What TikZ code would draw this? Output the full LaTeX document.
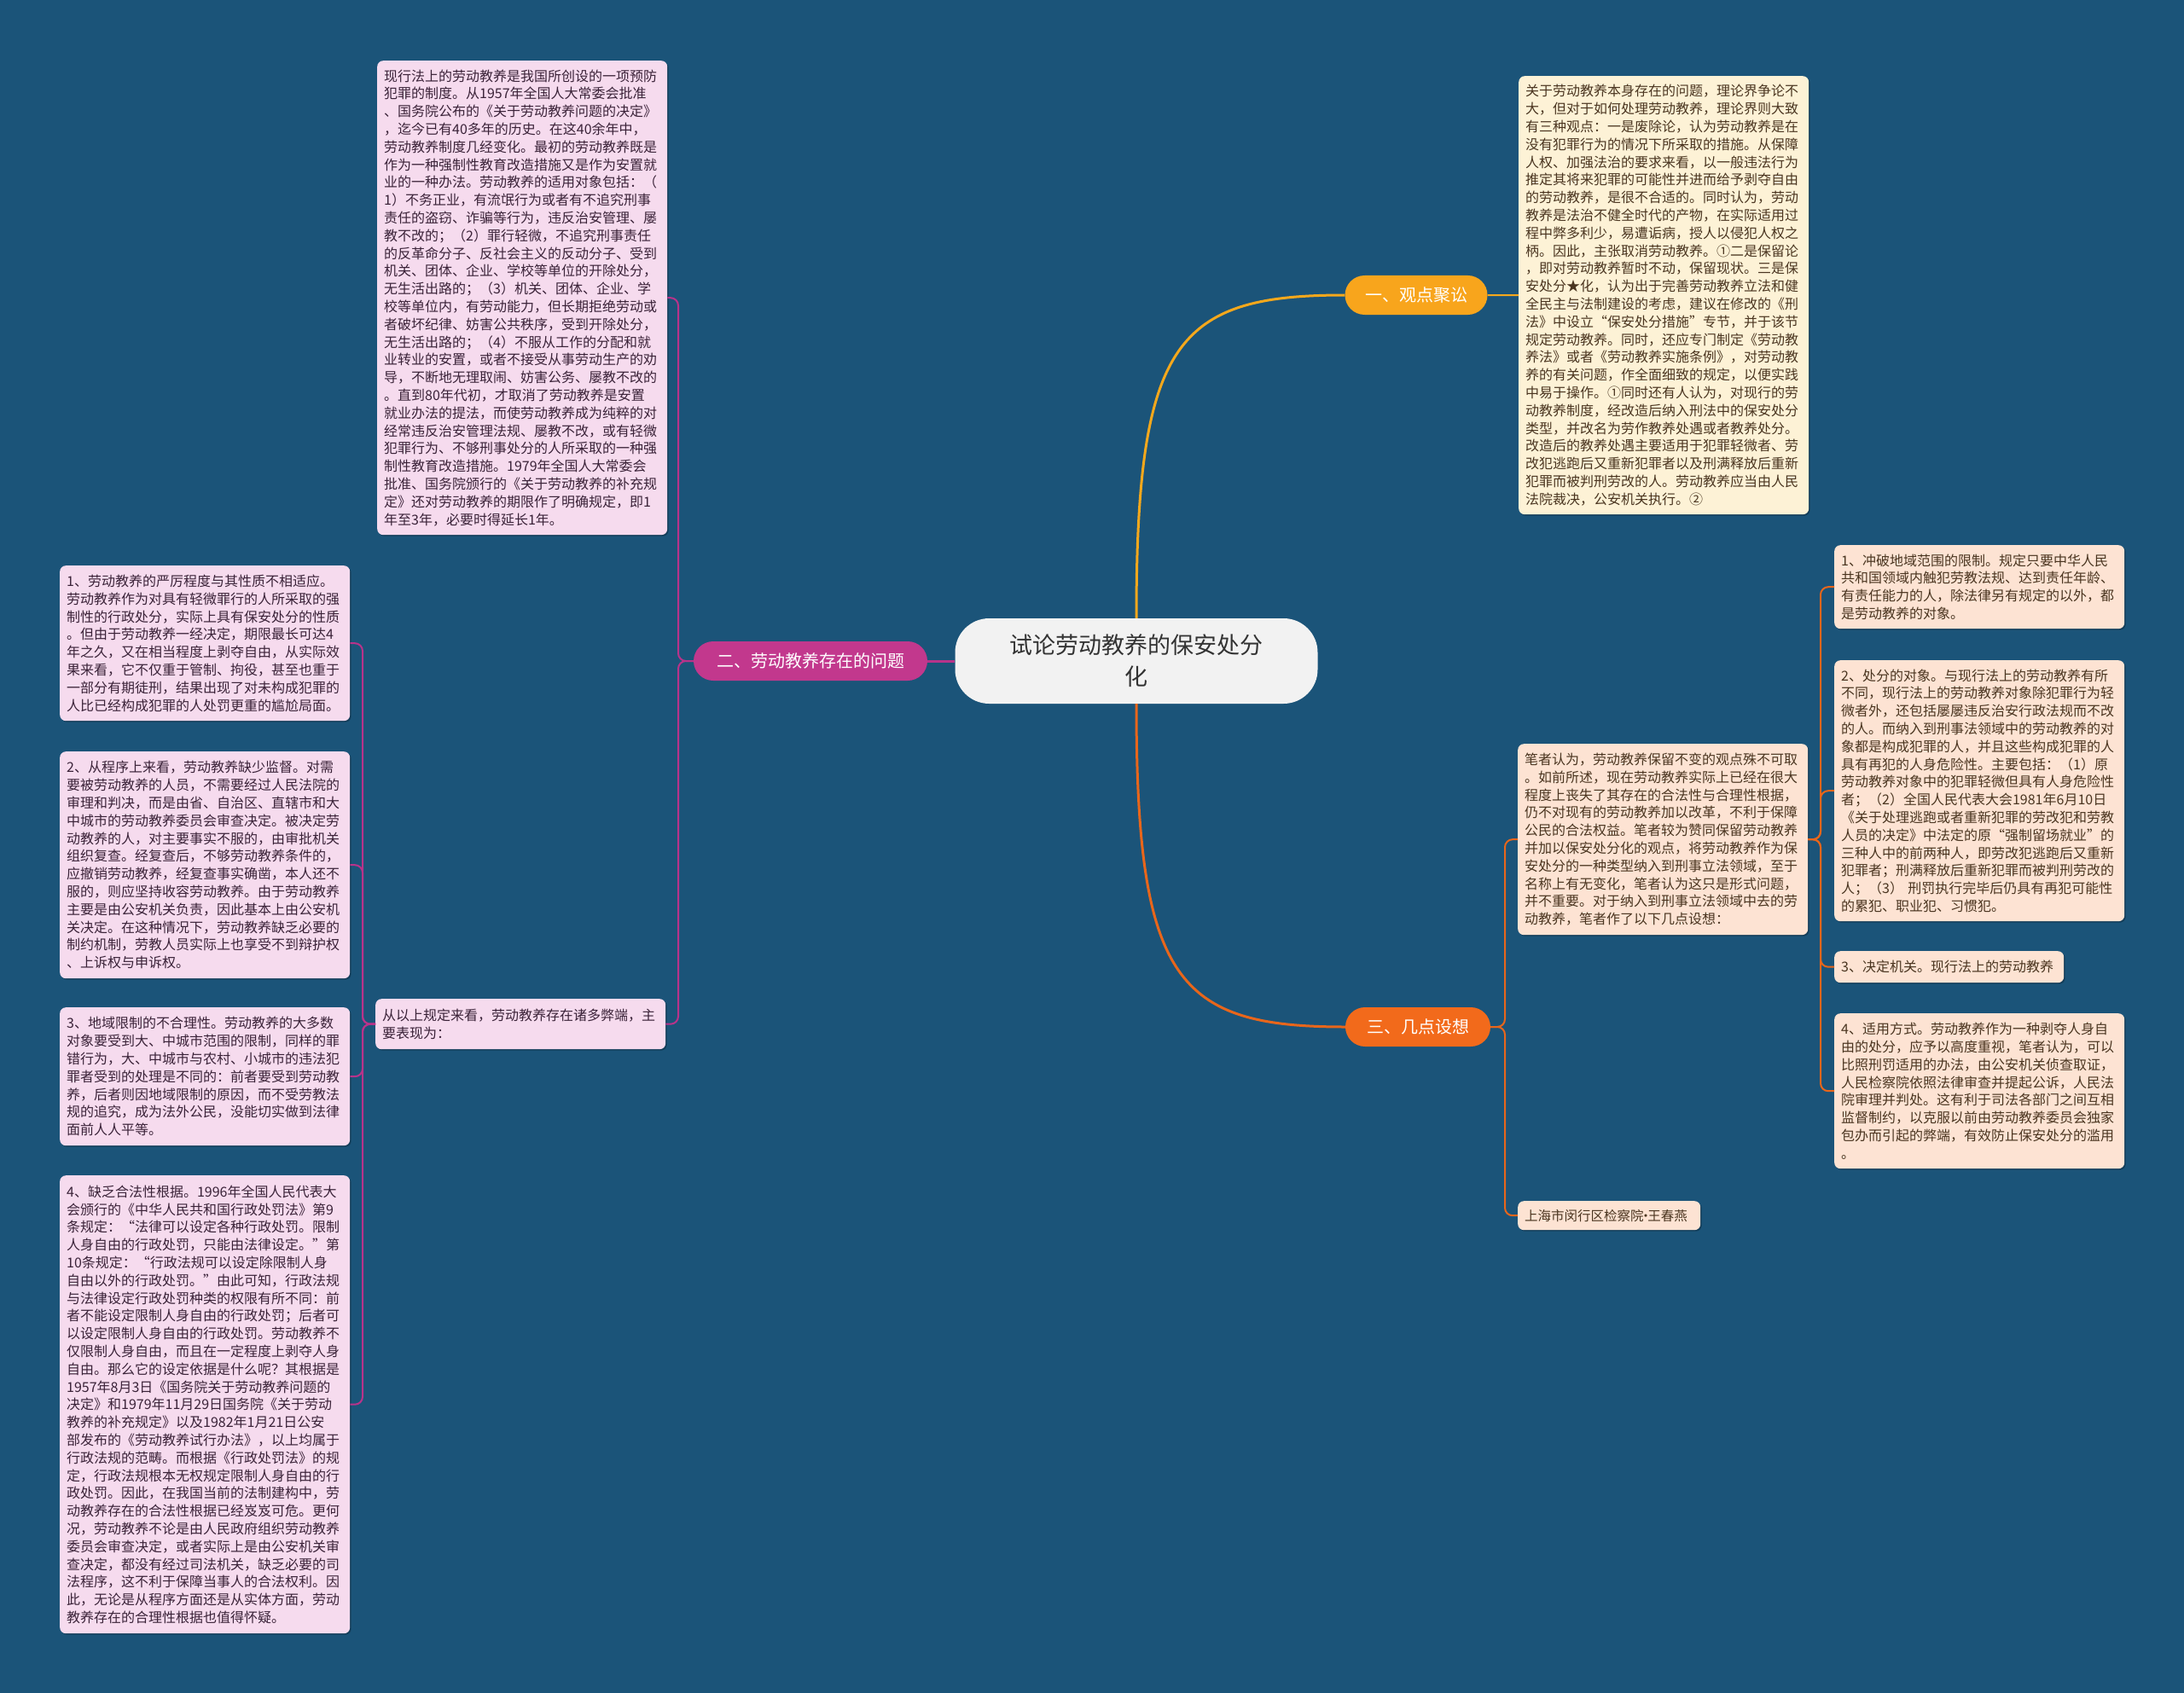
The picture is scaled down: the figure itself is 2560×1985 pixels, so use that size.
\documentclass[tikz,border=0pt]{standalone}
\usepackage{fontspec}
\setmainfont{Noto Sans CJK SC}
\usetikzlibrary{shadows}
\definecolor{canvas}{HTML}{1B5479}
\definecolor{rootfill}{HTML}{F2F2F2}
\definecolor{roottext}{HTML}{333333}
\definecolor{branchone}{HTML}{F8A51C}
\definecolor{branchtwo}{HTML}{C2388D}
\definecolor{branchthree}{HTML}{F26A1B}
\definecolor{linkone}{HTML}{F5A81C}
\definecolor{linktwo}{HTML}{B8338A}
\definecolor{linkthree}{HTML}{E8661B}
\definecolor{notepink}{HTML}{F6DBEE}
\definecolor{notecream}{HTML}{FDF2D6}
\definecolor{notepeach}{HTML}{FDE3D3}
\definecolor{textbrown}{HTML}{4A3520}
\definecolor{textplum}{HTML}{3A2238}

\begin{document}
\begin{tikzpicture}[x=1pt,y=-1pt,
  root/.style={fill=rootfill,text=roottext,rounded corners=40pt,align=center,
    minimum width=425pt,minimum height=100pt,font=\fontsize{27}{37}\selectfont},
  branch/.style={text=white,rounded corners=23pt,minimum height=46pt,inner xsep=10pt,
    font=\fontsize{20}{24}\selectfont},
  note/.style={anchor=north west,align=left,text width=324pt,inner xsep=8pt,inner ysep=0pt,
    rounded corners=7pt,font=\fontsize{16}{20.8}\selectfont,
    drop shadow={shadow xshift=1.5pt,shadow yshift=-1.5pt,opacity=0.25,fill=black}},
  pinknote/.style={note,fill=notepink,text=textplum},
  creamnote/.style={note,fill=notecream,text=textbrown},
  peachnote/.style={note,fill=notepeach,text=textbrown},
  link/.style={line width=2pt,rounded corners=9pt},
  mainlink/.style={line width=3pt}]
  \useasboundingbox[fill=canvas] (0,0) rectangle (2560,1985);

  \node[root] (root) at (1332,775) {试论劳动教养的保安处分\\化};
  \node[branch,fill=branchone,minimum width=167pt] (b1) at (1660,346) {一、观点聚讼};
  \node[branch,fill=branchtwo,minimum width=274pt] (b2) at (950,775) {二、劳动教养存在的问题};
  \node[branch,fill=branchthree,minimum width=170pt] (b3) at (1662,1204) {三、几点设想};

  \node[creamnote,minimum height=514pt] (tr) at (1780,89) {%
关于劳动教养本身存在的问题，理论界争论不\\%
大，但对于如何处理劳动教养，理论界则大致\\%
有三种观点：一是废除论，认为劳动教养是在\\%
没有犯罪行为的情况下所采取的措施。从保障\\%
人权、加强法治的要求来看，以一般违法行为\\%
推定其将来犯罪的可能性并进而给予剥夺自由\\%
的劳动教养，是很不合适的。同时认为，劳动\\%
教养是法治不健全时代的产物，在实际适用过\\%
程中弊多利少，易遭诟病，授人以侵犯人权之\\%
柄。因此，主张取消劳动教养。①二是保留论\\%
，即对劳动教养暂时不动，保留现状。三是保\\%
安处分★化，认为出于完善劳动教养立法和健\\%
全民主与法制建设的考虑，建议在修改的《刑\\%
法》中设立“保安处分措施”专节，并于该节\\%
规定劳动教养。同时，还应专门制定《劳动教\\%
养法》或者《劳动教养实施条例》，对劳动教\\%
养的有关问题，作全面细致的规定，以便实践\\%
中易于操作。①同时还有人认为，对现行的劳\\%
动教养制度，经改造后纳入刑法中的保安处分\\%
类型，并改名为劳作教养处遇或者教养处分。\\%
改造后的教养处遇主要适用于犯罪轻微者、劳\\%
改犯逃跑后又重新犯罪者以及刑满释放后重新\\%
犯罪而被判刑劳改的人。劳动教养应当由人民\\%
法院裁决，公安机关执行。②};

  \node[pinknote,minimum height=556pt] (t1) at (442,71) {%
现行法上的劳动教养是我国所创设的一项预防\\%
犯罪的制度。从1957年全国人大常委会批准\\%
、国务院公布的《关于劳动教养问题的决定》\\%
，迄今已有40多年的历史。在这40余年中，\\%
劳动教养制度几经变化。最初的劳动教养既是\\%
作为一种强制性教育改造措施又是作为安置就\\%
业的一种办法。劳动教养的适用对象包括：（\\%
1）不务正业，有流氓行为或者有不追究刑事\\%
责任的盗窃、诈骗等行为，违反治安管理、屡\\%
教不改的；（2）罪行轻微，不追究刑事责任\\%
的反革命分子、反社会主义的反动分子、受到\\%
机关、团体、企业、学校等单位的开除处分，\\%
无生活出路的；（3）机关、团体、企业、学\\%
校等单位内，有劳动能力，但长期拒绝劳动或\\%
者破坏纪律、妨害公共秩序，受到开除处分，\\%
无生活出路的；（4）不服从工作的分配和就\\%
业转业的安置，或者不接受从事劳动生产的劝\\%
导，不断地无理取闹、妨害公务、屡教不改的\\%
。直到80年代初，才取消了劳动教养是安置\\%
就业办法的提法，而使劳动教养成为纯粹的对\\%
经常违反治安管理法规、屡教不改，或有轻微\\%
犯罪行为、不够刑事处分的人所采取的一种强\\%
制性教育改造措施。1979年全国人大常委会\\%
批准、国务院颁行的《关于劳动教养的补充规\\%
定》还对劳动教养的期限作了明确规定，即1\\%
年至3年，必要时得延长1年。};

  \node[pinknote,minimum height=59pt] (ml) at (440,1171) {%
从以上规定来看，劳动教养存在诸多弊端，主\\%
要表现为：};

  \node[pinknote,minimum height=182pt] (l1) at (70,663) {%
1、劳动教养的严厉程度与其性质不相适应。\\%
劳动教养作为对具有轻微罪行的人所采取的强\\%
制性的行政处分，实际上具有保安处分的性质\\%
。但由于劳动教养一经决定，期限最长可达4\\%
年之久，又在相当程度上剥夺自由，从实际效\\%
果来看，它不仅重于管制、拘役，甚至也重于\\%
一部分有期徒刑，结果出现了对未构成犯罪的\\%
人比已经构成犯罪的人处罚更重的尴尬局面。};

  \node[pinknote,minimum height=266pt] (l2) at (70,881) {%
2、从程序上来看，劳动教养缺少监督。对需\\%
要被劳动教养的人员，不需要经过人民法院的\\%
审理和判决，而是由省、自治区、直辖市和大\\%
中城市的劳动教养委员会审查决定。被决定劳\\%
动教养的人，对主要事实不服的，由审批机关\\%
组织复查。经复查后，不够劳动教养条件的，\\%
应撤销劳动教养，经复查事实确凿，本人还不\\%
服的，则应坚持收容劳动教养。由于劳动教养\\%
主要是由公安机关负责，因此基本上由公安机\\%
关决定。在这种情况下，劳动教养缺乏必要的\\%
制约机制，劳教人员实际上也享受不到辩护权\\%
、上诉权与申诉权。};

  \node[pinknote,minimum height=162pt] (l3) at (70,1181) {%
3、地域限制的不合理性。劳动教养的大多数\\%
对象要受到大、中城市范围的限制，同样的罪\\%
错行为，大、中城市与农村、小城市的违法犯\\%
罪者受到的处理是不同的：前者要受到劳动教\\%
养，后者则因地域限制的原因，而不受劳教法\\%
规的追究，成为法外公民，没能切实做到法律\\%
面前人人平等。};

  \node[pinknote,minimum height=537pt] (l4) at (70,1378) {%
4、缺乏合法性根据。1996年全国人民代表大\\%
会颁行的《中华人民共和国行政处罚法》第9\\%
条规定：“法律可以设定各种行政处罚。限制\\%
人身自由的行政处罚，只能由法律设定。”第\\%
10条规定：“行政法规可以设定除限制人身\\%
自由以外的行政处罚。”由此可知，行政法规\\%
与法律设定行政处罚种类的权限有所不同：前\\%
者不能设定限制人身自由的行政处罚；后者可\\%
以设定限制人身自由的行政处罚。劳动教养不\\%
仅限制人身自由，而且在一定程度上剥夺人身\\%
自由。那么它的设定依据是什么呢？其根据是\\%
1957年8月3日《国务院关于劳动教养问题的\\%
决定》和1979年11月29日国务院《关于劳动\\%
教养的补充规定》以及1982年1月21日公安\\%
部发布的《劳动教养试行办法》，以上均属于\\%
行政法规的范畴。而根据《行政处罚法》的规\\%
定，行政法规根本无权规定限制人身自由的行\\%
政处罚。因此，在我国当前的法制建构中，劳\\%
动教养存在的合法性根据已经岌岌可危。更何\\%
况，劳动教养不论是由人民政府组织劳动教养\\%
委员会审查决定，或者实际上是由公安机关审\\%
查决定，都没有经过司法机关，缺乏必要的司\\%
法程序，这不利于保障当事人的合法权利。因\\%
此，无论是从程序方面还是从实体方面，劳动\\%
教养存在的合理性根据也值得怀疑。};

  \node[peachnote,minimum height=224pt] (m) at (1779,872) {%
笔者认为，劳动教养保留不变的观点殊不可取\\%
。如前所述，现在劳动教养实际上已经在很大\\%
程度上丧失了其存在的合法性与合理性根据，\\%
仍不对现有的劳动教养加以改革，不利于保障\\%
公民的合法权益。笔者较为赞同保留劳动教养\\%
并加以保安处分化的观点，将劳动教养作为保\\%
安处分的一种类型纳入到刑事立法领域，至于\\%
名称上有无变化，笔者认为这只是形式问题，\\%
并不重要。对于纳入到刑事立法领域中去的劳\\%
动教养，笔者作了以下几点设想：};

  \node[peachnote,text width=198pt,minimum height=34pt,font=\fontsize{15.5}{20}\selectfont] (author) at (1779,1408) {上海市闵行区检察院\kern-0.35em·\kern-0.35em王春燕};

  \node[peachnote,minimum height=98pt] (r1) at (2150,639) {%
1、冲破地域范围的限制。规定只要中华人民\\%
共和国领域内触犯劳教法规、达到责任年龄、\\%
有责任能力的人，除法律另有规定的以外，都\\%
是劳动教养的对象。};

  \node[peachnote,minimum height=306pt] (r2) at (2150,774) {%
2、处分的对象。与现行法上的劳动教养有所\\%
不同，现行法上的劳动教养对象除犯罪行为轻\\%
微者外，还包括屡屡违反治安行政法规而不改\\%
的人。而纳入到刑事法领域中的劳动教养的对\\%
象都是构成犯罪的人，并且这些构成犯罪的人\\%
具有再犯的人身危险性。主要包括：（1）原\\%
劳动教养对象中的犯罪轻微但具有人身危险性\\%
者；（2）全国人民代表大会1981年6月10日\\%
《关于处理逃跑或者重新犯罪的劳改犯和劳教\\%
人员的决定》中法定的原“强制留场就业”的\\%
三种人中的前两种人，即劳改犯逃跑后又重新\\%
犯罪者；刑满释放后重新犯罪而被判刑劳改的\\%
人；（3） 刑罚执行完毕后仍具有再犯可能性\\%
的累犯、职业犯、习惯犯。};

  \node[peachnote,text width=253pt,minimum height=37pt] (r3) at (2150,1115) {3、决定机关。现行法上的劳动教养};

  \node[peachnote,minimum height=182pt] (r4) at (2150,1188) {%
4、适用方式。劳动教养作为一种剥夺人身自\\%
由的处分，应予以高度重视，笔者认为，可以\\%
比照刑罚适用的办法，由公安机关侦查取证，\\%
人民检察院依照法律审查并提起公诉，人民法\\%
院审理并判处。这有利于司法各部门之间互相\\%
监督制约，以克服以前由劳动教养委员会独家\\%
包办而引起的弊端，有效防止保安处分的滥用\\%
。};

  \coordinate (lefthub) at (795,775);
  \coordinate (leftfar) at (425,1200);
  \coordinate (righthub) at (1764,1204);
  \coordinate (rightfar) at (2134,984);

  \draw[mainlink,draw=linkone] (root.north) .. controls ++(0,-325) and ++(-197,0) .. (b1.west);
  \draw[mainlink,draw=linkthree] (root.south) .. controls ++(0,325) and ++(-197,0) .. (b3.west);
  \draw[mainlink,draw=linktwo] (root.west) -- (b2.east);

  \draw[link,draw=linkone] (b1.east) -- (tr.west);
  \foreach \n in {t1,ml}
    \draw[link,draw=linktwo] (b2.west) -- (lefthub) -- (lefthub |- \n.east) -- (\n.east);
  \foreach \n in {l1,l2,l3,l4}
    \draw[link,draw=linktwo] (ml.west) -- (ml.west -| leftfar) -- (leftfar |- \n.east) -- (\n.east);
  \foreach \n in {m,author}
    \draw[link,draw=linkthree] (b3.east) -- (righthub) -- (righthub |- \n.west) -- (\n.west);
  \foreach \n in {r1,r2,r3,r4}
    \draw[link,draw=linkthree] (m.east) -- (m.east -| rightfar) -- (rightfar |- \n.west) -- (\n.west);
\end{tikzpicture}
\end{document}
